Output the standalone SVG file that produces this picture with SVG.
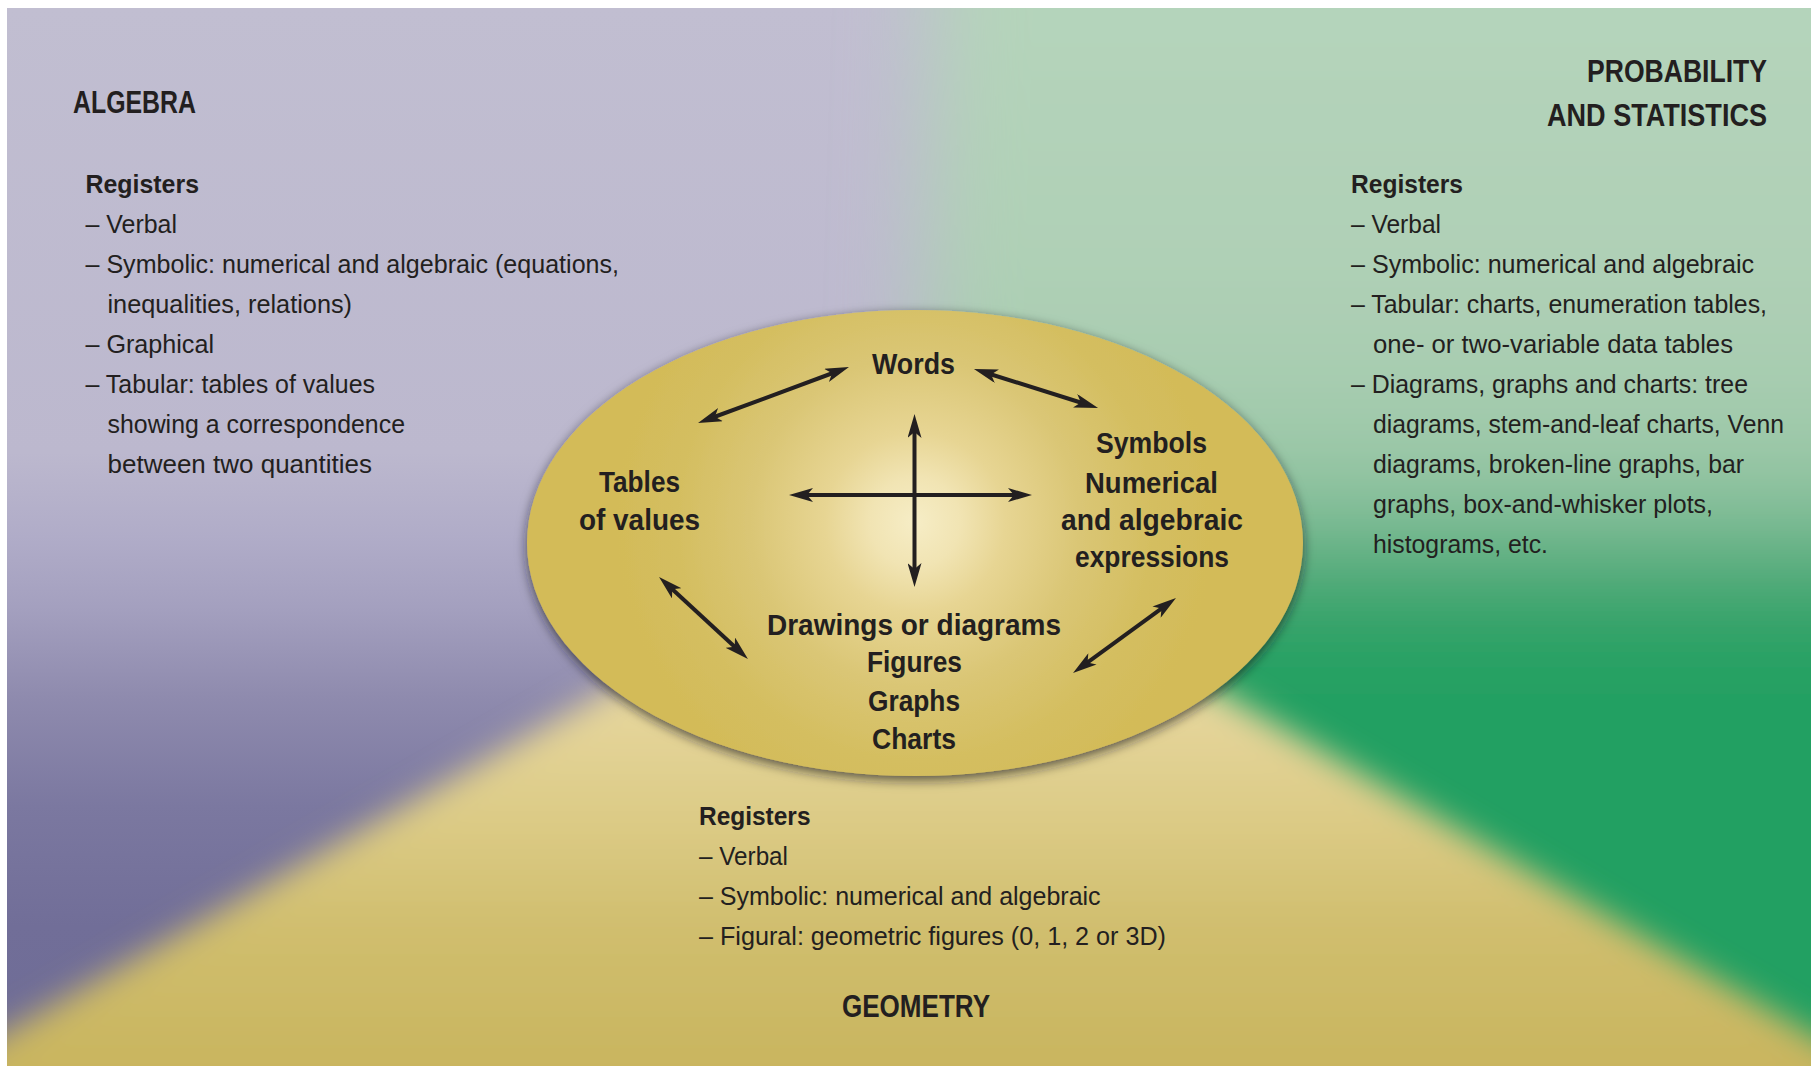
<svg xmlns="http://www.w3.org/2000/svg" width="1811" height="1066" viewBox="0 0 1811 1066">
  <style>
    .t { font-family: "Liberation Sans", Arial, sans-serif; fill: #231f20; }
    .body { font-size: 26px; }
    .reg { font-size: 26px; font-weight: bold; }
    .lbl { font-size: 29px; font-weight: bold; }
    .title { font-size: 32px; font-weight: bold; }
    .end { text-anchor: end; }
    .arrow { fill: none; stroke: #231f20; stroke-width: 4; marker-start: url(#ah); marker-end: url(#ah); }
  </style>
  <defs>
    <clipPath id="page"><rect x="7" y="8" width="1804" height="1058"/></clipPath>

    <!-- colour fields of the three domains -->
    <linearGradient id="gPurple" gradientUnits="userSpaceOnUse" x1="0" y1="8" x2="0" y2="1066">
      <stop offset="0" stop-color="#c1bed1"/>
      <stop offset="0.42" stop-color="#bcb8ce"/>
      <stop offset="0.50" stop-color="#b0acc8"/>
      <stop offset="0.566" stop-color="#a4a0bf"/>
      <stop offset="0.65" stop-color="#8f8bae"/>
      <stop offset="0.755" stop-color="#7b78a0"/>
      <stop offset="0.868" stop-color="#716e98"/>
      <stop offset="1" stop-color="#6e6c96"/>
    </linearGradient>
    <linearGradient id="gGreen" gradientUnits="userSpaceOnUse" x1="0" y1="8" x2="0" y2="1066">
      <stop offset="0" stop-color="#b5d4bb"/>
      <stop offset="0.28" stop-color="#aecfb5"/>
      <stop offset="0.39" stop-color="#a3cbad"/>
      <stop offset="0.45" stop-color="#93c4a2"/>
      <stop offset="0.496" stop-color="#72b88f"/>
      <stop offset="0.538" stop-color="#4aa877"/>
      <stop offset="0.58" stop-color="#2ea266"/>
      <stop offset="0.63" stop-color="#23a062"/>
      <stop offset="1" stop-color="#21a062"/>
    </linearGradient>
    <linearGradient id="gYellow" gradientUnits="userSpaceOnUse" x1="0" y1="520" x2="0" y2="1066">
      <stop offset="0" stop-color="#ecdea9"/>
      <stop offset="0.35" stop-color="#e5d59b"/>
      <stop offset="0.55" stop-color="#dccb86"/>
      <stop offset="0.75" stop-color="#d0be6e"/>
      <stop offset="1" stop-color="#c9b55f"/>
    </linearGradient>
    <filter id="blurWide" filterUnits="userSpaceOnUse" x="-400" y="-400" width="2700" height="2000">
      <feGaussianBlur stdDeviation="42"/>
    </filter>
    <filter id="blurSoft" filterUnits="userSpaceOnUse" x="-400" y="-400" width="2700" height="2000">
      <feGaussianBlur stdDeviation="16"/>
    </filter>

    <!-- central ellipse -->
    <radialGradient id="gHub" gradientUnits="userSpaceOnUse" cx="915" cy="522" r="300">
      <stop offset="0" stop-color="#f6edc6"/>
      <stop offset="0.15" stop-color="#f1e4b3"/>
      <stop offset="0.3" stop-color="#e7d593"/>
      <stop offset="0.55" stop-color="#dac675"/>
      <stop offset="0.8" stop-color="#d4be60"/>
      <stop offset="1" stop-color="#d3bb58"/>
    </radialGradient>
    <filter id="hubShadow" x="-10%" y="-10%" width="120%" height="125%">
      <feGaussianBlur in="SourceAlpha" stdDeviation="6"/>
      <feOffset dx="0" dy="4" result="b"/>
      <feFlood flood-color="#1a1a20" flood-opacity="0.68"/>
      <feComposite in2="b" operator="in"/>
      <feMerge><feMergeNode/><feMergeNode in="SourceGraphic"/></feMerge>
    </filter>

    <marker id="ah" viewBox="0 0 24 14" refX="14" refY="7" markerWidth="24" markerHeight="14" markerUnits="userSpaceOnUse" orient="auto-start-reverse">
      <path d="M0,0 L24,7 L0,14 L6,7 Z" fill="#231f20"/>
    </marker>
  </defs>

  <rect width="1811" height="1066" fill="#ffffff"/>

  <!-- background: three domains meeting under the ellipse -->
  <g id="background" clip-path="url(#page)">
    <rect x="-300" y="-300" width="2400" height="1700" fill="url(#gPurple)"/>
    <polygon points="945,-400 2300,-400 2300,1600 1100,1600 915,560" fill="url(#gGreen)" filter="url(#blurWide)"/>
    <polygon points="915,515 2300,1317 2300,1600 -400,1600 -400,1263" fill="url(#gYellow)" filter="url(#blurSoft)"/>
  </g>

  <!-- domain: algebra -->
  <g id="algebra">
    <text class="t title" x="73" y="113" textLength="123" lengthAdjust="spacingAndGlyphs">ALGEBRA</text>
    <text class="t reg" x="85.5" y="193" textLength="113.5" lengthAdjust="spacingAndGlyphs">Registers</text>
    <text class="t body" x="85.5" y="233" textLength="91.5" lengthAdjust="spacingAndGlyphs">– Verbal</text>
    <text class="t body" x="85.5" y="273" textLength="533.5" lengthAdjust="spacingAndGlyphs">– Symbolic: numerical and algebraic (equations,</text>
    <text class="t body" x="107.5" y="313" textLength="244.5" lengthAdjust="spacingAndGlyphs">inequalities, relations)</text>
    <text class="t body" x="85.5" y="353" textLength="128.5" lengthAdjust="spacingAndGlyphs">– Graphical</text>
    <text class="t body" x="85.5" y="393" textLength="289.5" lengthAdjust="spacingAndGlyphs">– Tabular: tables of values</text>
    <text class="t body" x="107.5" y="433" textLength="297.5" lengthAdjust="spacingAndGlyphs">showing a correspondence</text>
    <text class="t body" x="107.5" y="473" textLength="264.5" lengthAdjust="spacingAndGlyphs">between two quantities</text>
  </g>

  <!-- domain: probability and statistics -->
  <g id="probability-statistics">
    <text class="t title end" x="1767" y="81.5" textLength="180" lengthAdjust="spacingAndGlyphs">PROBABILITY</text>
    <text class="t title end" x="1767" y="126" textLength="220" lengthAdjust="spacingAndGlyphs">AND STATISTICS</text>
    <text class="t reg" x="1351" y="193" textLength="112" lengthAdjust="spacingAndGlyphs">Registers</text>
    <text class="t body" x="1351" y="233" textLength="90" lengthAdjust="spacingAndGlyphs">– Verbal</text>
    <text class="t body" x="1351" y="273" textLength="403" lengthAdjust="spacingAndGlyphs">– Symbolic: numerical and algebraic</text>
    <text class="t body" x="1351" y="313" textLength="416" lengthAdjust="spacingAndGlyphs">– Tabular: charts, enumeration tables,</text>
    <text class="t body" x="1373" y="353" textLength="360" lengthAdjust="spacingAndGlyphs">one- or two-variable data tables</text>
    <text class="t body" x="1351" y="393" textLength="397" lengthAdjust="spacingAndGlyphs">– Diagrams, graphs and charts: tree</text>
    <text class="t body" x="1373" y="433" textLength="411" lengthAdjust="spacingAndGlyphs">diagrams, stem-and-leaf charts, Venn</text>
    <text class="t body" x="1373" y="473" textLength="371" lengthAdjust="spacingAndGlyphs">diagrams, broken-line graphs, bar</text>
    <text class="t body" x="1373" y="513" textLength="340" lengthAdjust="spacingAndGlyphs">graphs, box-and-whisker plots,</text>
    <text class="t body" x="1373" y="553" textLength="175" lengthAdjust="spacingAndGlyphs">histograms, etc.</text>
  </g>

  <!-- domain: geometry -->
  <g id="geometry">
    <text class="t reg" x="699" y="825" textLength="111.5" lengthAdjust="spacingAndGlyphs">Registers</text>
    <text class="t body" x="699" y="865" textLength="89" lengthAdjust="spacingAndGlyphs">– Verbal</text>
    <text class="t body" x="699" y="905" textLength="401.6" lengthAdjust="spacingAndGlyphs">– Symbolic: numerical and algebraic</text>
    <text class="t body" x="699" y="945" textLength="467" lengthAdjust="spacingAndGlyphs">– Figural: geometric figures (0, 1, 2 or 3D)</text>
    <text class="t title" x="842" y="1017" textLength="148" lengthAdjust="spacingAndGlyphs">GEOMETRY</text>
  </g>

  <!-- central hub of representations -->
  <g id="hub">
    <ellipse cx="915" cy="543" rx="388" ry="233" fill="url(#gHub)" filter="url(#hubShadow)"/>
  </g>

  <g id="words">
    <text class="t lbl" x="872" y="374" textLength="83" lengthAdjust="spacingAndGlyphs">Words</text>
  </g>
  <g id="tables">
    <text class="t lbl" x="599" y="492" textLength="81" lengthAdjust="spacingAndGlyphs">Tables</text>
    <text class="t lbl" x="579" y="530" textLength="121" lengthAdjust="spacingAndGlyphs">of values</text>
  </g>
  <g id="symbols">
    <text class="t lbl" x="1096" y="453" textLength="111" lengthAdjust="spacingAndGlyphs">Symbols</text>
    <text class="t lbl" x="1085" y="493" textLength="133" lengthAdjust="spacingAndGlyphs">Numerical</text>
    <text class="t lbl" x="1061" y="530" textLength="182" lengthAdjust="spacingAndGlyphs">and algebraic</text>
    <text class="t lbl" x="1075" y="567" textLength="154" lengthAdjust="spacingAndGlyphs">expressions</text>
  </g>
  <g id="drawings">
    <text class="t lbl" x="767" y="635" textLength="294" lengthAdjust="spacingAndGlyphs">Drawings or diagrams</text>
    <text class="t lbl" x="867" y="672" textLength="95" lengthAdjust="spacingAndGlyphs">Figures</text>
    <text class="t lbl" x="868" y="711" textLength="92" lengthAdjust="spacingAndGlyphs">Graphs</text>
    <text class="t lbl" x="872" y="749" textLength="84" lengthAdjust="spacingAndGlyphs">Charts</text>
  </g>

  <!-- two-way links between representations -->
  <g id="connectors">
    <path class="arrow" d="M914.5,424 L914.5,577"/>
    <path class="arrow" d="M799,495 L1022,495"/>
    <path class="arrow" d="M707.4,419.5 L839.6,370.5"/>
    <path class="arrow" d="M983.5,372 L1088.5,405"/>
    <path class="arrow" d="M666.4,583.8 L740.6,652.2"/>
    <path class="arrow" d="M1081.1,667.1 L1167.9,603.9"/>
  </g>
</svg>
